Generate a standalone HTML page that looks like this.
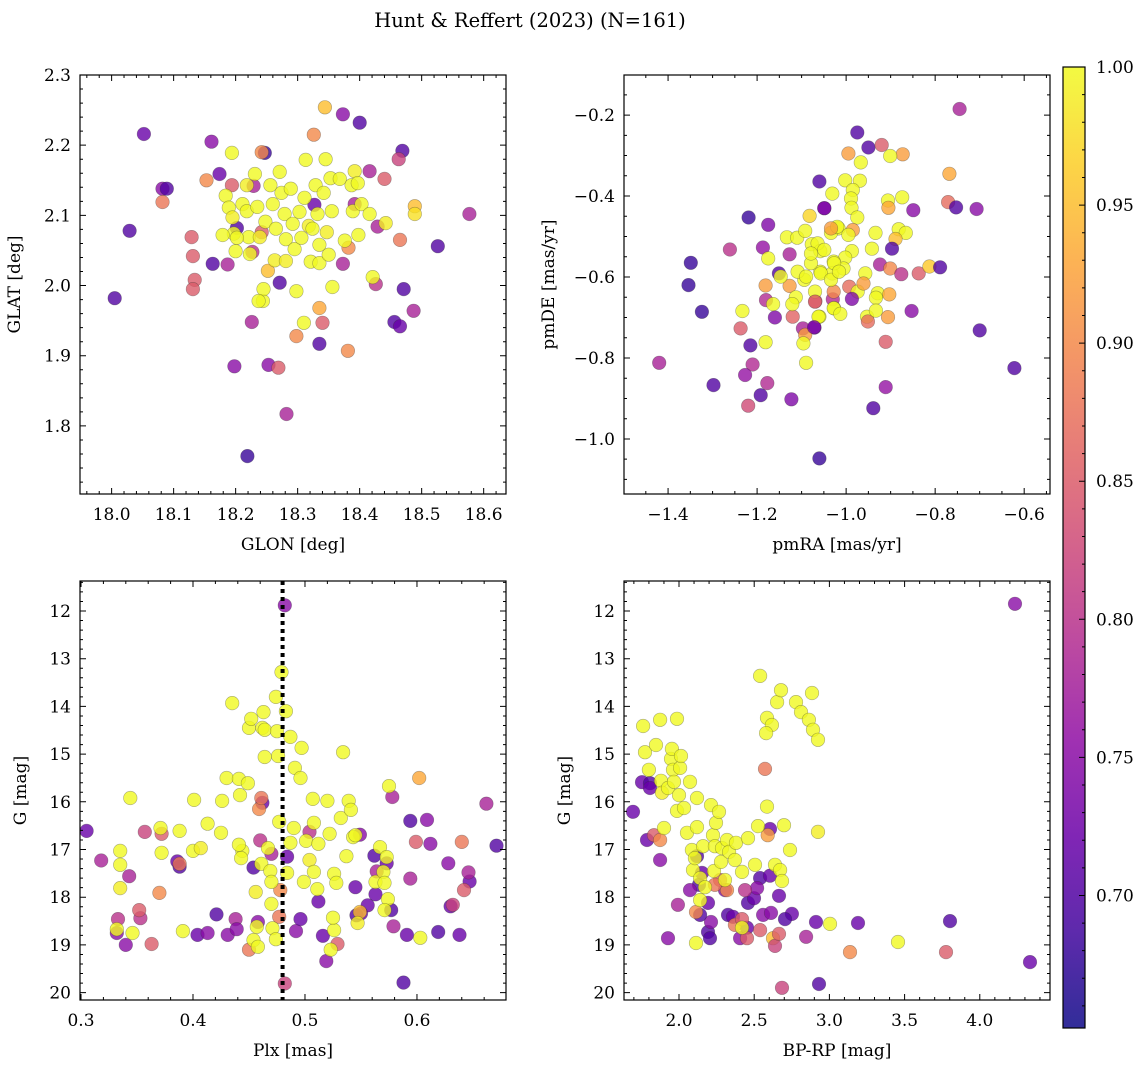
<!DOCTYPE html>
<html><head><meta charset="utf-8">
<style>
html,body{margin:0;padding:0;background:#fff;}
svg{display:block;font-family:"DejaVu Serif","Liberation Serif",serif;}
</style></head>
<body>
<svg id="fig" width="1148" height="1067" viewBox="0 0 1148 1067" xmlns="http://www.w3.org/2000/svg">
<rect width="1148" height="1067" fill="#fff"/>
<text x="530" y="27" font-size="19.5" text-anchor="middle">Hunt &amp; Reffert (2023) (N=161)</text>
</svg>
<script>
// ---------- Panel 1: GLON vs GLAT ----------
const glon = [18.052,18.029,18.005,18.082,18.089,18.161,18.174,18.163,18.187,18.198,18.202,18.226,18.219,18.247,18.253,18.271,18.282,18.373,18.4,18.416,18.426,18.469,18.463,18.471,18.456,18.465,18.487,18.526,18.577,18.335,18.229,18.227,18.327,18.373,18.429,18.392,
18.129,18.131,18.134,18.131,18.153,18.082,18.194,18.242,18.252,18.269,18.298,18.326,18.335,18.34,18.344,18.381,18.382,18.44,18.465,18.489,18.242,
18.194,18.184,18.189,18.195,18.197,18.2,18.211,18.218,18.218,18.221,18.223,18.231,18.235,18.239,18.244,18.245,18.248,18.256,18.26,18.263,18.265,18.271,18.274,18.279,18.281,18.281,18.289,18.292,18.295,18.298,18.303,18.306,18.313,18.311,18.318,18.321,18.324,18.329,18.332,18.335,18.335,18.342,18.345,18.347,18.35,18.353,18.355,18.356,18.368,18.376,18.387,18.389,18.392,18.397,18.398,18.403,18.416,18.421,18.442,18.489,18.31,18.237,18.202,18.179];
const glat = [2.216,2.078,1.982,2.138,2.138,2.205,2.159,2.031,2.03,1.885,2.082,1.948,1.757,2.189,1.887,2.004,1.817,2.244,2.232,2.163,2.002,2.192,2.18,1.995,1.948,1.942,1.964,2.056,2.102,1.917,2.142,2.048,2.115,2.031,2.084,2.116,
2.069,2.042,2.008,1.995,2.15,2.119,2.143,2.19,2.021,1.883,1.928,2.215,1.968,1.947,2.254,1.907,2.054,2.152,2.065,2.113,2.076,
2.189,2.128,2.111,2.097,2.074,2.049,2.116,2.143,2.106,2.069,2.045,2.159,2.112,2.069,1.978,1.995,2.091,2.143,2.116,2.036,2.081,2.162,2.132,2.102,2.066,2.035,2.138,2.088,2.052,1.992,2.105,2.068,2.179,2.125,2.085,2.034,2.081,2.143,2.102,2.058,2.032,2.132,2.18,2.076,2.044,2.153,2.106,1.998,2.152,2.064,2.143,2.106,2.163,2.146,2.072,2.116,2.102,2.012,2.089,2.102,1.947,1.978,2.068,2.072];
const prob1 = [.72,.7,.7,.75,.7,.75,.72,.7,.78,.75,.7,.78,.68,.68,.75,.7,.78,.75,.7,.78,.8,.7,.82,.7,.7,.72,.78,.7,.78,.7,.78,.8,.72,.78,.78,.78,
.85,.85,.85,.85,.9,.88,.85,.9,.95,.85,.9,.9,.93,.85,.95,.9,.9,.85,.88,.95,.85,
1,1,1,.99,1,1,1,.99,1,1,1,1,1,.99,1,1,1,1,1,.99,1,1,1,1,1,.99,1,1,1,1,1,1,1,1,.99,1,1,1,1,1,1,1,1,.99,1,1,1,1,1,1,1,1,.99,1,1,1,1,1,.99,.98,1,1,1,1];

// ---------- Panel 2: pmRA vs pmDE ----------
const pmra = [-1.42,-1.349,-1.354,-1.324,-1.298,-1.261,-1.219,-1.175,-1.187,-1.175,-1.237,-1.233,-1.215,-1.21,-1.227,-1.22,-1.192,-1.177,-1.123,-1.06,-1.181,-1.181,-1.18,-1.164,-1.16,-1.12,-1.127,-1.133,-1.11,-1.092,-1.082,-1.049,-1.151,-1.127,-1.113,-1.121,-1.069,-1.06,-1.097,-1.071,-1.092,-1.096,-1.09,-1.03,-1.027,
-0.745,-0.975,-0.95,-0.92,-0.995,-0.873,-0.901,-0.967,-0.768,-1.06,-1.002,-0.969,-0.985,-1.031,-0.989,-0.874,-0.906,-0.905,-0.771,-0.753,-0.707,-0.849,-1.049,-0.988,-0.975,-1.017,-1.034,-0.985,-0.995,-0.934,-0.882,-0.866,-0.889,-0.942,-0.897,-0.987,-1.002,-1.077,-1.058,-1.028,-1.058,-1.031,-1.006,-0.957,-0.924,-0.901,-0.876,-0.837,-0.813,-0.789,-1.07,-1.07,-1.028,-0.993,-0.974,-0.961,-0.987,-0.929,-0.933,-0.903,-1.028,-1.013,-1.062,-1.072,-0.953,-0.951,-0.933,-0.906,-0.853,-0.7,-0.911,-0.622,-0.911,-0.939,
-1.064,-1.049,-1.079,-1.057,-1.034,-1.094,-1.109,-1.02,-1.034,-1.027,-1.079,-1.09,-1.016,-1.147];
const pmde = [-0.812,-0.565,-0.62,-0.686,-0.867,-0.532,-0.453,-0.471,-0.527,-0.554,-0.727,-0.684,-0.769,-0.816,-0.842,-0.918,-0.892,-0.862,-0.902,-1.048,-0.761,-0.621,-0.657,-0.667,-0.7,-0.698,-0.544,-0.502,-0.503,-0.486,-0.449,-0.43,-0.591,-0.622,-0.65,-0.667,-0.66,-0.698,-0.727,-0.725,-0.743,-0.764,-0.812,-0.655,-0.677,
-0.185,-0.243,-0.28,-0.274,-0.295,-0.297,-0.301,-0.317,-0.345,-0.364,-0.361,-0.362,-0.385,-0.394,-0.406,-0.403,-0.411,-0.429,-0.415,-0.428,-0.432,-0.435,-0.43,-0.429,-0.453,-0.48,-0.491,-0.484,-0.496,-0.491,-0.482,-0.491,-0.506,-0.53,-0.53,-0.536,-0.552,-0.519,-0.536,-0.562,-0.587,-0.591,-0.579,-0.591,-0.569,-0.579,-0.593,-0.591,-0.574,-0.576,-0.636,-0.661,-0.636,-0.624,-0.636,-0.616,-0.654,-0.64,-0.651,-0.643,-0.677,-0.691,-0.698,-0.724,-0.698,-0.71,-0.683,-0.699,-0.684,-0.732,-0.76,-0.825,-0.872,-0.924,
-0.517,-0.533,-0.566,-0.591,-0.607,-0.607,-0.587,-0.476,-0.48,-0.566,-0.542,-0.599,-0.587,-0.599];
const prob2 = [.78,.68,.68,.68,.7,.8,.68,.74,.76,1,.85,1,.7,.79,.76,.83,.7,.79,.74,.68,1,.92,.79,1,.74,.86,.78,1,1,1,.97,.74,.7,.92,1,1,.86,1,.78,.72,.92,1,1,.79,1,
.78,.7,.7,.85,.92,.92,1,1,.93,.7,1,1,1,1,1,1,1,.93,.87,.7,.75,.75,.74,1,1,1,1,.92,1,1,1,1,.95,1,.7,1,1,1,1,1,1,1,1,1,.78,.9,.8,.85,.96,.7,1,.85,.9,.87,1,.92,.74,1,1,.93,1,1,1,.74,1,.87,1,.92,.75,.7,.85,.7,.76,.7,
1,1,1,1,1,1,1,1,.92,1,1,1,1,1];

// ---------- Panel 3: Plx vs G ----------
const plx = [0.305,0.318,0.332,0.333,0.34,0.343,0.353,0.386,0.388,0.404,0.413,0.421,0.431,0.438,0.439,0.454,0.458,0.482,0.484,0.492,0.496,0.512,0.519,0.516,0.545,0.546,0.556,0.562,0.563,0.564,0.573,0.577,0.579,0.588,0.591,0.594,0.609,0.612,0.619,0.628,0.63,0.638,0.647,0.646,0.671,0.662,0.462,0.46,0.482,0.47,0.504,0.549,0.578,0.55,0.594,
0.352,0.37,0.372,0.388,0.363,0.357,0.45,0.459,0.461,0.477,0.529,0.549,0.599,0.602,0.64,0.642,0.632,0.478,
0.332,0.344,0.335,0.335,0.335,0.346,0.372,0.371,0.388,0.391,0.4,0.401,0.407,0.413,0.425,0.426,0.43,0.435,0.441,0.442,0.444,0.441,0.443,0.449,0.45,0.452,0.454,0.457,0.458,0.456,0.461,0.462,0.463,0.464,0.464,0.467,0.469,0.47,0.47,0.471,0.474,0.475,0.476,0.474,0.477,0.479,0.483,0.484,0.487,0.487,0.49,0.491,0.497,0.496,0.501,0.499,0.504,0.508,0.507,0.511,0.508,0.512,0.52,0.522,0.526,0.523,0.526,0.525,0.528,0.532,0.534,0.537,0.539,0.543,0.541,0.545,0.547,0.563,0.567,0.57,0.571,0.573,0.574,0.571,0.575,0.603];
const gmag3 = [16.61,17.23,18.75,18.46,19.0,17.56,18.44,17.25,17.36,18.79,18.75,18.36,18.79,18.46,18.67,17.38,18.52,11.88,17.15,18.71,18.46,18.09,19.34,18.81,17.79,18.38,18.17,17.13,17.94,17.46,17.29,18.27,18.61,19.79,18.79,17.61,16.38,16.88,18.73,17.29,18.19,18.79,17.67,17.48,16.92,16.04,16.02,16.81,19.81,17.09,16.63,16.69,15.9,18.34,16.4,
18.27,17.91,16.67,17.3,18.98,16.63,19.1,16.15,15.92,18.41,18.98,18.31,16.84,15.5,16.84,17.85,18.16,17.85,
18.67,15.92,17.03,17.32,17.81,18.75,17.07,16.55,16.61,18.71,17.03,15.96,16.97,16.46,16.65,15.98,15.5,13.93,15.52,15.86,17.03,16.9,17.18,15.61,14.45,14.26,18.9,18.62,19.04,17.89,17.3,14.45,14.12,14.49,15.06,16.97,17.45,17.68,18.14,18.65,18.88,14.52,15.04,13.8,16.42,13.28,14.1,17.49,16.86,14.64,16.55,15.29,14.87,15.5,16.82,17.68,17.22,16.44,15.94,17.83,17.47,16.88,15.98,16.67,18.69,19.1,17.51,18.43,17.7,16.34,14.96,17.14,15.98,16.74,16.17,16.7,18.54,17.68,16.95,17.47,17.7,17.16,18.04,18.27,15.67,18.85];
const prob3 = [.72,.78,.75,.8,.75,.78,.8,.72,.7,.72,.75,.7,.75,.78,.75,.7,.75,.75,.72,.75,.72,.72,.75,.72,.72,.7,.72,.7,.72,.78,.72,.7,.78,.7,.72,.78,.75,.75,.7,.75,.72,.72,.72,.78,.7,.78,.72,.8,.82,.78,.8,.75,.78,.72,.7,
.85,.9,.85,.88,.85,.82,.88,.9,.88,.88,.85,.95,.85,.93,.88,.85,.82,.9,
1,1,1,1,.99,1,1,1,1,1,1,1,.99,1,1,1,1,1,1,1,1,1,1,1,1,1,1,1,1,.99,1,1,1,1,1,1,1,1,1,1,1,1,1,1,1,1,1,1,1,1,1,1,1,1,1,1,.99,1,1,1,1,1,1,1,1,1,1,1,1,1,1,1,1,1,1,1,.99,1,1,1,1,1,1,1,1,1];

// ---------- Panel 4: BP-RP vs G ----------
const bprp = [4.234,1.694,1.754,1.807,1.787,1.874,1.927,2.12,2.133,2.153,2.193,2.193,2.206,2.213,2.326,2.359,2.406,2.452,2.459,2.499,2.539,2.519,2.559,2.605,2.605,2.612,2.665,2.751,2.845,2.911,2.931,3.19,3.802,4.334,1.993,2.073,2.14,2.306,2.439,2.705,1.807,
1.834,1.874,2.113,2.319,2.372,2.452,2.572,2.625,2.638,2.665,2.685,3.137,3.775,2.419,2.273,2.239,2.539,2.59,
1.761,1.774,1.8,1.847,1.874,1.88,1.887,1.9,1.927,1.947,1.953,1.96,1.967,1.987,1.987,2.0,2.007,2.013,2.033,2.053,2.073,2.086,2.093,2.106,2.12,2.12,2.14,2.16,2.173,2.213,2.226,2.233,2.239,2.246,2.266,2.279,2.286,2.306,2.319,2.333,2.372,2.379,2.419,2.459,2.525,2.539,2.585,2.618,2.579,2.652,2.638,2.678,2.738,2.778,2.811,2.864,2.884,2.891,2.924,2.672,2.924,3.004,3.456,2.505,2.685,2.698,2.113,2.14,2.419,2.585];
const gmag4 = [11.85,16.21,15.59,15.61,16.8,17.22,18.86,17.14,17.74,17.49,18.12,18.73,18.86,18.52,18.37,18.41,18.86,18.64,18.12,18.02,17.6,17.81,18.37,17.55,16.57,18.33,17.97,18.35,18.83,18.52,19.82,18.54,18.5,19.36,18.16,17.85,18.37,17.85,17.85,18.46,15.71,
16.7,16.8,18.31,17.85,18.58,18.86,15.31,18.86,19.02,18.77,19.9,19.15,19.15,18.46,17.64,17.74,18.69,16.7,
14.41,14.96,15.33,14.81,14.28,15.56,15.81,16.55,15.71,15.1,14.89,15.33,15.58,14.26,16.19,15.86,15.29,15.04,16.13,16.65,15.58,17.01,17.43,17.18,15.92,16.53,17.6,16.93,17.79,16.07,16.7,17.45,16.93,16.44,16.21,17.26,16.97,17.64,16.8,17.05,17.22,16.86,17.47,16.76,16.51,13.36,14.24,14.39,14.56,13.91,17.32,13.66,17.01,13.91,14.12,14.28,13.72,14.49,14.7,17.43,16.63,18.56,18.94,17.32,17.66,16.49,18.96,18.06,18.64,16.1];
const prob4 = [.75,.72,.72,.7,.72,.75,.75,.7,.7,.72,.72,.7,.7,.75,.7,.72,.75,.72,.7,.72,.7,.75,.75,.72,.72,.75,.72,.72,.78,.72,.7,.72,.7,.72,.78,.75,.7,.75,.8,.7,.72,
.85,.9,.9,.9,.88,.85,.88,.95,.82,.85,.82,.9,.85,.85,.85,.88,.85,.92,
1,1,1,1,1,1,.99,1,1,1,1,1,1,1,1,1,1,1,1,1,1,1,1,1,1,1,1,1,1,1,1,1,1,1,1,1,1,1,1,1,1,1,1,1,1,1,1,1,1,1,1,1,1,1,1,1,1,1,1,1,.99,1,1,1,1,1,1,1,1,1];

// ---------- Colorbar ----------
const cbTicks = [0.70,0.75,0.80,0.85,0.90,0.95,1.00];
const vmin = 0.652, vmax = 1.0;

const NS = "http://www.w3.org/2000/svg";
const svg = document.getElementById('fig');
function mk(tag, attrs, parent){
  const e = document.createElementNS(NS, tag);
  for (const k in attrs) e.setAttribute(k, attrs[k]);
  (parent||svg).appendChild(e);
  return e;
}
const stops = ["#0d0887","#41049d","#6a00a8","#8f0da4","#b12a90","#cc4778","#e16462","#f2844b","#fca636","#fcce25","#f0f921"];
function hex(h){return [parseInt(h.slice(1,3),16),parseInt(h.slice(3,5),16),parseInt(h.slice(5,7),16)];}
function plasma(t){
  t=Math.max(0,Math.min(1,t));
  const f=t*10, i=Math.min(9,Math.floor(f)), r=f-i;
  const a=hex(stops[i]), b=hex(stops[i+1]);
  return "rgb("+a.map((v,k)=>Math.round(v+(b[k]-v)*r)).join(",")+")";
}
function fmt(v,d){const s=v.toFixed(d);return v<0? "\u2212"+s.slice(1):s;}

const panels = [
  {name:'glon-glat',L:80,R:506,T:75,B:494,xlim:[17.949,18.636],ylim:[1.703,2.300],inv:false,
   xt:[18.0,18.1,18.2,18.3,18.4,18.5,18.6],xd:1,xm:0.02,yt:[1.8,1.9,2.0,2.1,2.2,2.3],yd:1,ym:0.02,
   xl:'GLON [deg]',yl:'GLAT [deg]',X:glon,Y:glat,P:prob1},
  {name:'pmra-pmde',L:624,R:1050,T:75,B:494,xlim:[-1.499,-0.542],ylim:[-1.136,-0.101],inv:false,
   xt:[-1.4,-1.2,-1.0,-0.8,-0.6],xd:1,xm:0.05,yt:[-1.0,-0.8,-0.6,-0.4,-0.2],yd:1,ym:0.05,
   xl:'pmRA [mas/yr]',yl:'pmDE [mas/yr]',X:pmra,Y:pmde,P:prob2},
  {name:'plx-g',L:80,R:506,T:581,B:1000,xlim:[0.2991,0.6795],ylim:[11.371,20.155],inv:true,
   xt:[0.3,0.4,0.5,0.6],xd:1,xm:0.02,yt:[12,13,14,15,16,17,18,19,20],yd:0,ym:0.2,
   xl:'Plx [mas]',yl:'G [mag]',X:plx,Y:gmag3,P:prob3,vline:0.48},
  {name:'color-magnitude',L:624,R:1050,T:581,B:1000,xlim:[1.6343,4.4668],ylim:[11.371,20.155],inv:true,
   xt:[2.0,2.5,3.0,3.5,4.0],xd:1,xm:0.1,yt:[12,13,14,15,16,17,18,19,20],yd:0,ym:0.2,
   xl:'BP-RP [mag]',yl:'G [mag]',X:bprp,Y:gmag4,P:prob4}
];

panels.forEach(p=>{
  const g = mk('g',{});
  
  
  const sx = v => p.L + (v-p.xlim[0])/(p.xlim[1]-p.xlim[0])*(p.R-p.L);
  const sy = p.inv ? (v => p.T + (v-p.ylim[0])/(p.ylim[1]-p.ylim[0])*(p.B-p.T))
                   : (v => p.B - (v-p.ylim[0])/(p.ylim[1]-p.ylim[0])*(p.B-p.T));
  const pg = mk('g',{},g);
  
  
  for(let i=0;i<p.X.length;i++){
    const c = mk('circle',{cx:sx(p.X[i]).toFixed(1),cy:sy(p.Y[i]).toFixed(1),r:6.8,
      fill:plasma((p.P[i]-vmin)/(vmax-vmin)),'fill-opacity':0.8,stroke:'#333','stroke-opacity':0.4,'stroke-width':0.6},pg);
    
    
  }
  if(p.vline!==undefined){
    const l = mk('line',{x1:sx(p.vline),x2:sx(p.vline),y1:p.T,y2:p.B,stroke:'#000','stroke-width':4,'stroke-dasharray':'4 4'},g);
    
    
  }
  const fr = mk('rect',{x:p.L,y:p.T,width:p.R-p.L,height:p.B-p.T,fill:'none',stroke:'#000','stroke-width':1.2},g);
  
  
  let d='';
  const x0=Math.ceil(p.xlim[0]/p.xm-1e-6), x1=Math.floor(p.xlim[1]/p.xm+1e-6);
  for(let k=x0;k<=x1;k++){const X=sx(k*p.xm); d+=`M${X} ${p.B}v-3M${X} ${p.T}v3`;}
  const y0=Math.ceil(p.ylim[0]/p.ym-1e-6), y1=Math.floor(p.ylim[1]/p.ym+1e-6);
  for(let k=y0;k<=y1;k++){const Y=sy(k*p.ym); d+=`M${p.L} ${Y}h3M${p.R} ${Y}h-3`;}
  p.xt.forEach(v=>{const X=sx(v); d+=`M${X} ${p.B}v-6M${X} ${p.T}v6`;});
  p.yt.forEach(v=>{const Y=sy(v); d+=`M${p.L} ${Y}h6M${p.R} ${Y}h-6`;});
  const tk = mk('path',{d:d,stroke:'#000','stroke-width':1,fill:'none'},g);
  
  
  p.xt.forEach(v=>{
    const t = mk('text',{x:sx(v),y:p.B+26,'font-size':17,'text-anchor':'middle'},g);
    t.textContent = fmt(v,p.xd);
    
    
  });
  p.yt.forEach(v=>{
    const t = mk('text',{x:p.L-9,y:sy(v)+6,'font-size':17,'text-anchor':'end'},g);
    t.textContent = fmt(v,p.yd);
    
    
  });
  const xt = mk('text',{x:(p.L+p.R)/2,y:p.B+56,'font-size':17,'text-anchor':'middle'},g);
  xt.textContent = p.xl;
  
  
  const yx = p.L - (p.name==='pmra-pmde'?70:(p.inv?54:60));
  const yt = mk('text',{x:yx,y:(p.T+p.B)/2,'font-size':17,'text-anchor':'middle',transform:`rotate(-90 ${yx} ${(p.T+p.B)/2})`},g);
  yt.textContent = p.yl;
  
  
});

(function(){
  const L=1063,R=1085,T=67,B=1028;
  const g = mk('g',{});
  
  
  const defs = mk('defs',{},g);
  const lg = mk('linearGradient',{id:'cbg',x1:0,y1:1,x2:0,y2:0},defs);
  for(let i=0;i<=20;i++){ mk('stop',{offset:i/20,'stop-color':plasma(i/20),'stop-opacity':0.85},lg); }
  const r = mk('rect',{x:L,y:T,width:R-L,height:B-T,fill:'url(#cbg)',stroke:'#000','stroke-width':1.2},g);
  
  
  const sy = v => B - (v-vmin)/(vmax-vmin)*(B-T);
  let d='';
  for(let k=66;k<=100;k++){const Y=sy(k/100); d+=`M${R} ${Y}h-3`;}
  cbTicks.forEach(v=>{const Y=sy(v); d+=`M${R} ${Y}h-6`;});
  mk('path',{d:d,stroke:'#000','stroke-width':1},g);
  cbTicks.forEach(v=>{
    const t = mk('text',{x:R+11,y:sy(v)+6,'font-size':17},g);
    t.textContent = v.toFixed(2);
    
    
  });
})();
</script>
</body></html>
